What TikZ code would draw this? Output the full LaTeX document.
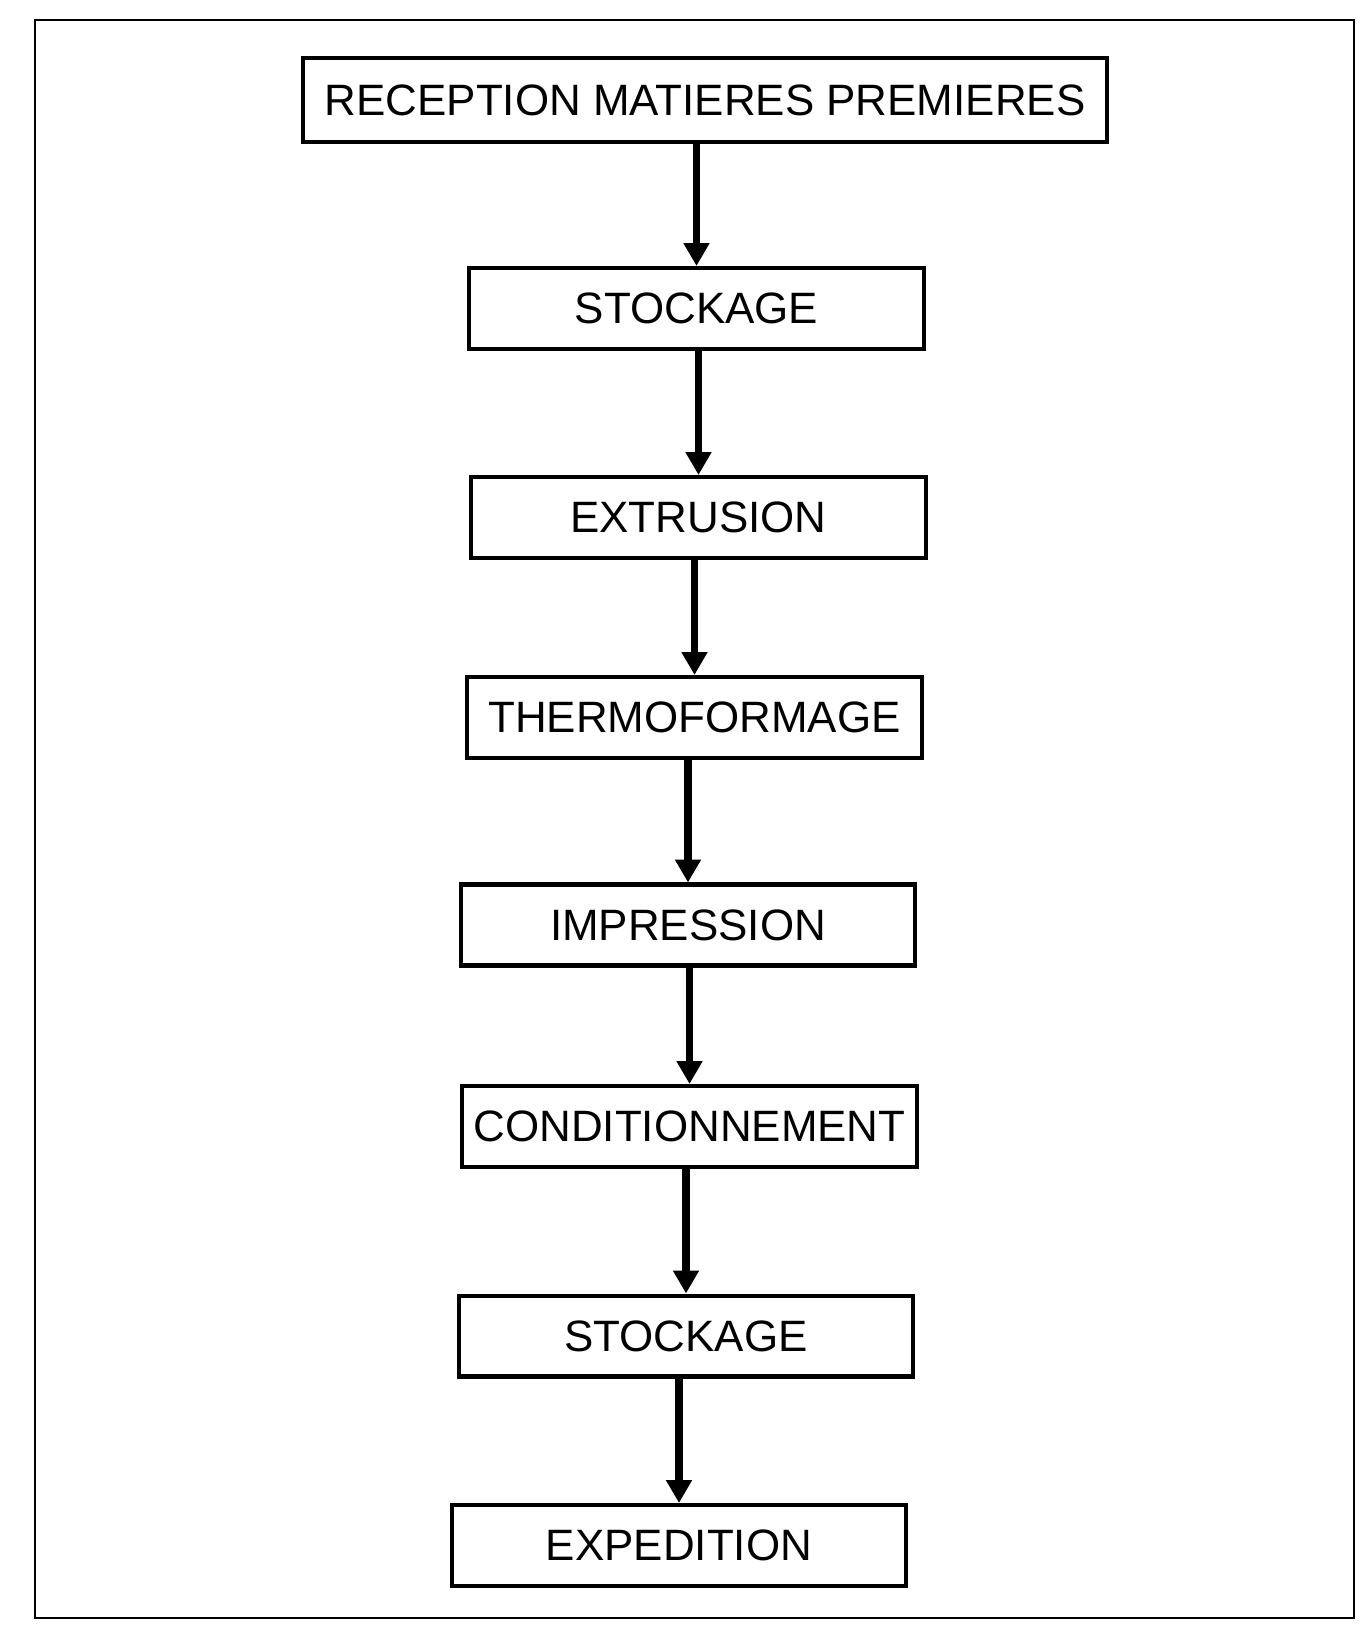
\documentclass[tikz,border=0pt]{standalone}
\usepackage{fontspec}
\setmainfont{Liberation Sans}
\usepackage{tikz}
\usetikzlibrary{arrows.meta, positioning}

\begin{document}
\begin{tikzpicture}[x=0.02cm, y=-0.02cm,
  stepbox/.style={rectangle, draw=black, line width=2.3pt, fill=white,
                  minimum width=9.1cm, minimum height=1.62cm, inner sep=0pt,
                  font=\fontsize{25}{30}\selectfont},
  arr/.style={-{Triangle[width=14pt,length=13pt]}, line width=4pt, black}
]
\useasboundingbox (0,0) rectangle (1360,1625);
%% Frame
\draw[line width=1.2pt] (35,20) rectangle (1354,1618);
%% Steps
\node[stepbox, minimum width=16.1cm, minimum height=1.68cm] (recep) at (705,100) {RECEPTION MATIERES PREMIERES};
\node[stepbox] (stock1) at (696.5,308.5) {STOCKAGE};
\node[stepbox] (extru) at (698.5,517.5) {EXTRUSION};
\node[stepbox] (thermo) at (694.5,717.5) {THERMOFORMAGE};
\node[stepbox] (impr) at (688,925) {IMPRESSION};
\node[stepbox] (cond) at (689.5,1126.5) {CONDITIONNEMENT};
\node[stepbox] (stock2) at (686,1336) {STOCKAGE};
\node[stepbox] (exped) at (679,1545.5) {EXPEDITION};
%% Arrows
\draw[arr] (recep.south -| stock1) -- (stock1.north);
\draw[arr] (stock1.south -| extru) -- (extru.north);
\draw[arr] (extru.south -| thermo) -- (thermo.north);
\draw[arr] (thermo.south -| impr) -- (impr.north);
\draw[arr] (impr.south -| cond) -- (cond.north);
\draw[arr] (cond.south -| stock2) -- (stock2.north);
\draw[arr] (stock2.south -| exped) -- (exped.north);
\end{tikzpicture}
\end{document}
